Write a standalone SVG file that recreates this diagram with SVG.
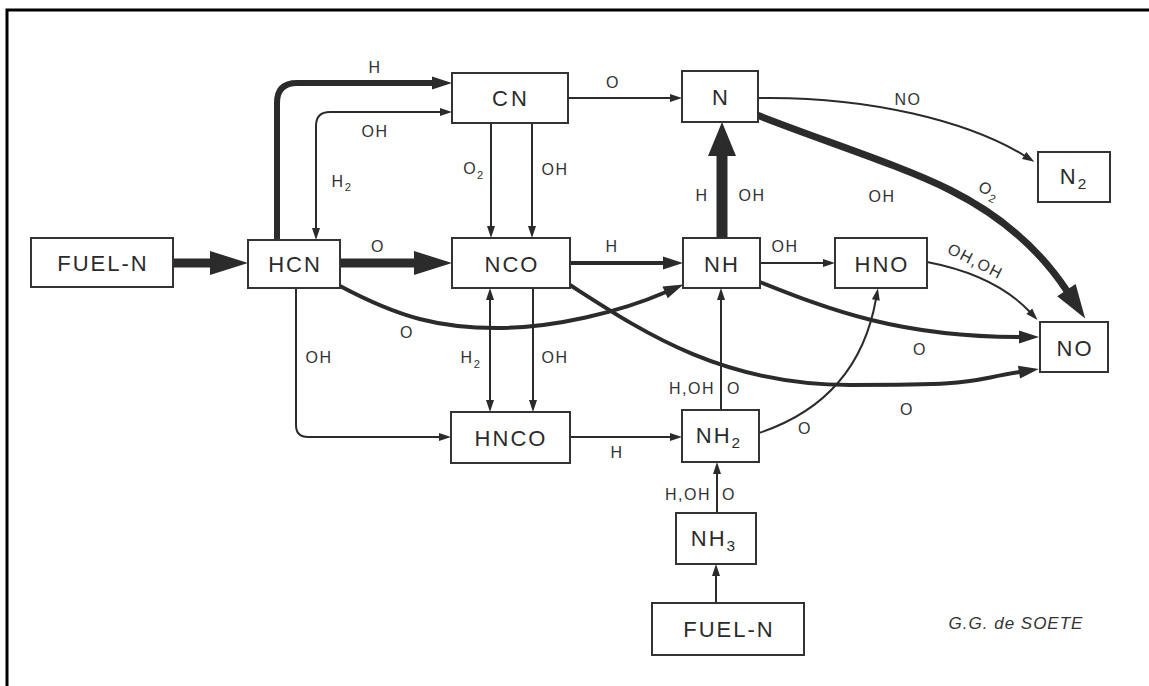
<svg xmlns="http://www.w3.org/2000/svg" width="1149" height="686" viewBox="0 0 1149 686">
<style>
.box{fill:#fff;stroke:#333;stroke-width:2}
.nt{font-family:"Liberation Sans",Arial,sans-serif;font-size:22px;letter-spacing:2px;fill:#2b2b2b;text-anchor:middle}
.lb{font-family:"Liberation Sans",Arial,sans-serif;font-size:16px;letter-spacing:1.5px;fill:#333;text-anchor:middle}
.lb.e{text-anchor:end}
.lb.s{text-anchor:start}
.sub{font-size:0.7em}
.c{fill:none;stroke:#2b2b2b;stroke-width:2}
.c4{stroke-width:4}
.c6{stroke-width:6}
.c7{stroke-width:7}
.c9{stroke-width:9}
.c11{stroke-width:11}
.aS{marker-end:url(#aS)}
.aM{marker-end:url(#aM)}
.aL{marker-end:url(#aL)}
</style>
<defs>
<marker id="aS" markerUnits="userSpaceOnUse" markerWidth="12" markerHeight="8" refX="1" refY="4" orient="auto-start-reverse" overflow="visible"><path d="M0,0 L12,4 L0,8 z" fill="#2b2b2b"/></marker>
<marker id="aM" markerUnits="userSpaceOnUse" markerWidth="20" markerHeight="13" refX="1" refY="6.5" orient="auto" overflow="visible"><path d="M0,0 L20,6.5 L0,13 z" fill="#2b2b2b"/></marker>
<marker id="aL" markerUnits="userSpaceOnUse" markerWidth="38" markerHeight="24" refX="1" refY="12" orient="auto" overflow="visible"><path d="M0,0 L38,12 L0,24 z" fill="#2b2b2b"/></marker>
<marker id="aXL" markerUnits="userSpaceOnUse" markerWidth="34" markerHeight="28" refX="1" refY="14" orient="auto" overflow="visible"><path d="M0,0 L34,14 L0,28 z" fill="#2b2b2b"/></marker>
<marker id="aN" markerUnits="userSpaceOnUse" markerWidth="34" markerHeight="22" refX="1" refY="11" orient="auto" overflow="visible"><path d="M0,0 L34,11 L0,22 z" fill="#2b2b2b"/></marker>
</defs>
<rect width="1149" height="686" fill="#fff"/>
<path d="M7,686 V10 H1149" fill="none" stroke="#000" stroke-width="3"/>

<g id="connectors">
<path class="c c9 aL" d="M173,263 H211"/>
<path class="c c9 aL" d="M340,263 H415"/>
<path class="c c6 aM" d="M277,240 V103 Q277,83 297,83 H433"/>
<path class="c" d="M441,112 H330 Q316,112 316,126 V229" marker-start="url(#aS)" marker-end="url(#aS)"/>
<path class="c aS" d="M568,98 H671"/>
<path class="c aS" d="M491,123 V227"/>
<path class="c aS" d="M532,123 V227"/>
<path class="c c4 aM" d="M570,263 H664"/>
<path class="c c11" d="M722,238 V155" marker-end="url(#aXL)"/>
<path class="c aS" d="M760,263 H824"/>
<path class="c aS" d="M758,98 C870,96 970,122 1025,156"/>
<path class="c c7" d="M757,115 C820,140 900,165 950,190 S1040,250 1067,291" marker-end="url(#aN)"/>
<path class="c aS" d="M927,262 Q995,275 1030,312"/>
<path class="c c4 aM" d="M760,282 C830,310 900,337 1020,337"/>
<path class="c c4 aM" d="M570,285 C640,330 720,385 850,385 S960,382 1020,372"/>
<path class="c c4 aM" d="M340,286 C400,318 440,328 497,328 S620,312 666,292"/>
<path class="c" d="M490,299 V401" marker-start="url(#aS)" marker-end="url(#aS)"/>
<path class="c aS" d="M533,288 V401"/>
<path class="c aS" d="M296,288 V425 Q296,437 308,437 H440"/>
<path class="c aS" d="M570,437 H671"/>
<path class="c aS" d="M721,410 V299"/>
<path class="c aS" d="M759,433 Q858,400 876,299"/>
<path class="c aS" d="M717,513 V473"/>
<path class="c aS" d="M716,603 V575"/>

<text class="lb" x="375" y="73">H</text>
<text class="lb" x="375" y="137">OH</text>
<text class="lb" x="342" y="187">H<tspan class="sub" dy="4">2</tspan></text>
<text class="lb" x="378" y="252">O</text>
<text class="lb" x="613" y="88">O</text>
<text class="lb" x="474" y="174">O<tspan class="sub" dy="5">2</tspan></text>
<text class="lb" x="555" y="175">OH</text>
<text class="lb" x="612" y="252">H</text>
<text class="lb" x="702" y="201">H</text>
<text class="lb" x="752" y="201">OH</text>
<text class="lb" x="785" y="252">OH</text>
<text class="lb" x="908" y="105">NO</text>
<text class="lb" x="882" y="202">OH</text>
<text class="lb" transform="translate(987,195) rotate(25)">O<tspan class="sub" dy="5">2</tspan></text>
<text class="lb" transform="translate(973,266) rotate(27)">OH,OH</text>
<text class="lb" x="920" y="355">O</text>
<text class="lb" x="907" y="415">O</text>
<text class="lb" x="407" y="338">O</text>
<text class="lb" x="471" y="363">H<tspan class="sub" dy="5">2</tspan></text>
<text class="lb" x="555" y="363">OH</text>
<text class="lb" x="319" y="363">OH</text>
<text class="lb" x="617" y="458">H</text>
<text class="lb e" x="715" y="394">H,OH</text>
<text class="lb s" x="727" y="394">O</text>
<text class="lb" x="805" y="434">O</text>
<text class="lb e" x="711" y="500">H,OH</text>
<text class="lb s" x="722" y="500">O</text>
</g>

<g id="fuel-n-left"><rect class="box" x="31" y="238" width="142" height="49"/><text class="nt" x="103" y="271">FUEL-N</text></g>
<g id="hcn"><rect class="box" x="248" y="240" width="92" height="48"/><text class="nt" x="295" y="272">HCN</text></g>
<g id="cn"><rect class="box" x="452" y="73" width="116" height="50"/><text class="nt" x="511" y="106" style="letter-spacing:3px">CN</text></g>
<g id="n"><rect class="box" x="682" y="71" width="76" height="51"/><text class="nt" x="721" y="105">N</text></g>
<g id="n2"><rect class="box" x="1038" y="152" width="72" height="50"/><text class="nt" x="1074" y="184">N<tspan class="sub" dy="5">2</tspan></text></g>
<g id="nco"><rect class="box" x="452" y="238" width="118" height="50"/><text class="nt" x="512" y="272">NCO</text></g>
<g id="nh"><rect class="box" x="683" y="238" width="77" height="50"/><text class="nt" x="722" y="272">NH</text></g>
<g id="hno"><rect class="box" x="835" y="238" width="92" height="50"/><text class="nt" x="882" y="272">HNO</text></g>
<g id="no"><rect class="box" x="1040" y="322" width="68" height="50"/><text class="nt" x="1075" y="356">NO</text></g>
<g id="hnco"><rect class="box" x="451" y="412" width="119" height="51"/><text class="nt" x="511" y="446">HNCO</text></g>
<g id="nh2"><rect class="box" x="682" y="410" width="77" height="52"/><text class="nt" x="719" y="443">NH<tspan class="sub" dy="5">2</tspan></text></g>
<g id="nh3"><rect class="box" x="676" y="513" width="80" height="51"/><text class="nt" x="714" y="546">NH<tspan class="sub" dy="5">3</tspan></text></g>
<g id="fuel-n-bottom"><rect class="box" x="652" y="603" width="152" height="52"/><text class="nt" x="729" y="637">FUEL-N</text></g>

<text x="1016" y="629" font-family="'Liberation Sans',Arial,sans-serif" font-size="17" font-style="italic" letter-spacing="1" fill="#333" text-anchor="middle">G.G. de SOETE</text>
</svg>
